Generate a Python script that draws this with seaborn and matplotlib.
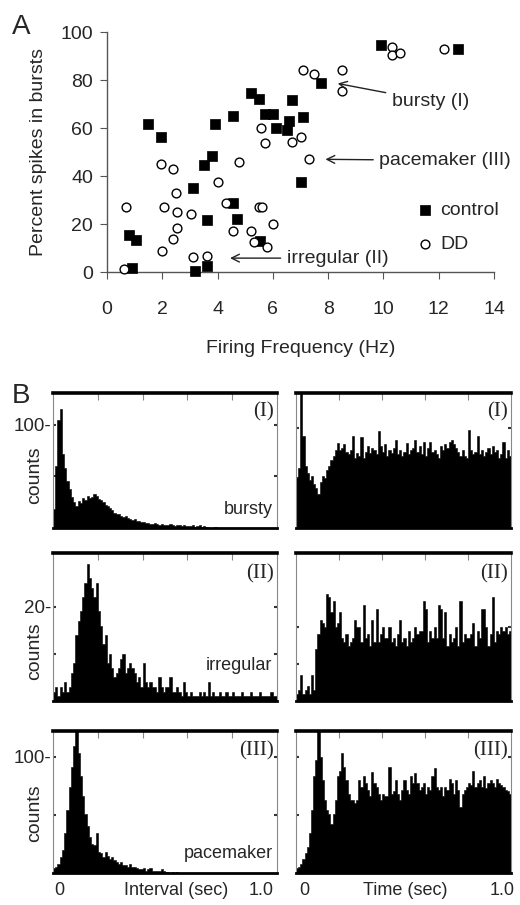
import numpy as np
import pandas as pd
import matplotlib
matplotlib.use("Agg")
import matplotlib.pyplot as plt
import seaborn as sns

sns.set_style("ticks")
plt.rcParams["font.family"] = ["Liberation Sans", "DejaVu Sans"]

# ---------------- DATA ----------------
# Panel A: firing frequency (Hz) vs percent spikes in bursts
control_x = [0.8, 1.05, 0.9, 1.5, 1.95, 3.1, 3.2, 3.5, 3.6, 3.6, 3.8, 3.9, 4.55, 4.55, 4.7,
             5.2, 5.5, 5.55, 5.7, 6.0, 6.1, 6.5, 6.6, 6.7, 7.0, 7.1, 7.75, 9.9, 12.7]
control_y = [15.5, 13.5, 1.7, 61.7, 56.3, 35, 0.5, 44.6, 21.7, 2.5, 48.3, 61.7, 65, 28.8, 22,
             74.5, 72, 13, 66, 65.7, 60, 59, 63, 71.7, 37.5, 64.7, 78.8, 94.6, 93]
dd_x = [0.61, 0.69, 1.95, 2.0, 2.06, 2.4, 2.4, 2.5, 2.53, 2.53, 3.03, 3.1, 3.6, 4.0, 4.3, 4.55,
        4.77, 5.2, 5.3, 5.5, 5.62, 5.56, 5.7, 5.8, 6.0, 6.7, 7.0, 7.1, 7.3, 7.5, 8.5, 8.5,
        10.3, 10.3, 10.6, 12.2]
dd_y = [1.2, 27, 45, 8.8, 27, 42.9, 13.8, 33, 25, 18.3, 24, 6.3, 6.6, 37.5, 28.7, 17,
        45.8, 17, 12.7, 27, 27, 60, 53.7, 10.4, 20, 54.2, 56.3, 84, 47, 82.5, 84, 75.5,
        93.7, 90.4, 91.3, 93]

# Panel B: 100 bins of 0.01 s from 0 to 1.0 s
bin_centers = np.round(np.arange(100) * 0.01 + 0.005, 3)

bursty_isi = [18, 60, 105, 115, 72, 58, 46, 38, 30, 25,
              21, 26, 24, 29, 27, 31, 29, 30, 33, 31,
              28, 27, 25, 22, 21, 19, 17, 15, 14, 14,
              12, 11, 12, 10, 9, 8, 9, 7, 7, 6,
              6, 5, 5, 4, 4, 5, 4, 3, 4, 3,
              3, 3, 4, 3, 2, 3, 3, 2, 3, 2,
              2, 2, 3, 1, 2, 3, 1, 2, 1, 0,
              0, 0, 1, 0, 0, 0, 0, 0, 0, 0,
              0, 0, 0, 0, 0, 0, 0, 0, 0, 0,
              0, 0, 0, 0, 0, 0, 0, 0, 0, 0]
bursty_acg = [50, 60, 140, 92, 62, 55, 48, 52, 44, 40,
              34, 46, 52, 50, 58, 62, 68, 72, 78, 85,
              78, 80, 84, 76, 74, 78, 92, 70, 75, 72,
              91, 70, 76, 82, 75, 80, 78, 74, 97, 82,
              76, 84, 72, 78, 75, 80, 88, 74, 78, 72,
              76, 85, 74, 78, 80, 88, 76, 82, 74, 86,
              72, 80, 86, 76, 78, 74, 70, 82, 78, 84,
              80, 86, 88, 84, 80, 76, 72, 78, 72, 70,
              98, 78, 74, 76, 92, 74, 78, 72, 76, 80,
              74, 82, 76, 78, 70, 74, 86, 70, 78, 72]
irregular_isi = [2, 3, 1, 3, 2, 4, 2, 3, 6, 8,
                 14, 17, 19, 22, 25, 29, 26, 24, 22, 25,
                 19, 16, 12, 14, 8, 10, 7, 5, 6, 7,
                 9, 10, 6, 7, 8, 7, 6, 4, 5, 3,
                 8, 4, 3, 4, 3, 3, 2, 5, 3, 2,
                 3, 3, 5, 2, 2, 3, 2, 1, 4, 2,
                 1, 2, 1, 1, 1, 2, 1, 2, 1, 4,
                 1, 2, 1, 1, 2, 1, 1, 2, 1, 1,
                 2, 1, 1, 1, 2, 1, 1, 1, 2, 1,
                 1, 1, 2, 1, 1, 1, 1, 2, 1, 1]
irregular_acg = [2, 3, 7, 2, 3, 4, 2, 7, 3, 14,
                 18, 22, 21, 20, 29, 28, 24, 27, 20, 21,
                 24, 17, 16, 18, 15, 16, 17, 22, 20, 20,
                 16, 26, 17, 18, 15, 22, 16, 25, 16, 18,
                 20, 17, 17, 20, 16, 17, 15, 18, 22, 16,
                 17, 15, 19, 16, 17, 20, 18, 19, 19, 27,
                 25, 16, 19, 17, 20, 17, 26, 25, 17, 24,
                 15, 18, 16, 17, 20, 15, 27, 16, 18, 17,
                 17, 18, 21, 15, 19, 17, 25, 25, 20, 15,
                 18, 28, 16, 19, 18, 20, 19, 20, 18, 19]
pacemaker_isi = [4, 5, 8, 14, 20, 34, 54, 74, 91, 109,
                 125, 103, 83, 66, 51, 40, 31, 25, 24, 34,
                 18, 17, 14, 18, 15, 12, 14, 11, 9, 8,
                 9, 7, 7, 5, 8, 5, 5, 4, 3, 3,
                 4, 2, 3, 4, 2, 2, 2, 2, 3, 2,
                 1, 1, 0, 1, 0, 1, 0, 0, 0, 0,
                 0, 0, 0, 0, 0, 0, 0, 0, 0, 0,
                 0, 0, 0, 0, 0, 0, 0, 0, 0, 0,
                 0, 0, 0, 0, 0, 0, 0, 0, 0, 0,
                 0, 0, 0, 0, 0, 0, 0, 0, 0, 0]
pacemaker_acg = [4, 5, 8, 12, 17, 22, 34, 54, 83, 97,
                 125, 100, 80, 63, 54, 51, 42, 51, 63, 83,
                 88, 103, 91, 80, 68, 63, 63, 60, 63, 80,
                 74, 83, 77, 71, 66, 87, 77, 74, 68, 63,
                 68, 66, 66, 91, 68, 70, 80, 68, 63, 71,
                 80, 71, 68, 83, 77, 86, 77, 71, 74, 77,
                 68, 74, 71, 83, 90, 74, 71, 74, 66, 74,
                 71, 81, 77, 68, 80, 71, 57, 68, 71, 74,
                 77, 76, 88, 74, 77, 80, 74, 83, 73, 77,
                 80, 77, 74, 81, 77, 76, 74, 71, 70, 68]

row_tags = ["(I)", "(II)", "(III)"]
row_names = ["bursty", "irregular", "pacemaker"]
isi_data = [bursty_isi, irregular_isi, pacemaker_isi]
acg_data = [bursty_acg, irregular_acg, pacemaker_acg]

fig = plt.figure(figsize=(5.2, 9.05), dpi=100)
fig.set_facecolor("white")

# ---------------- PANEL A ----------------
ax = fig.add_axes([0.2058, 0.6994, 0.7442, 0.2652])
sns.scatterplot(x=control_x, y=control_y, marker="s", s=58, color="black",
                edgecolor="black", linewidth=0.5, label="control", ax=ax,
                clip_on=False, zorder=3)
sns.scatterplot(x=dd_x, y=dd_y, marker="o", s=40, color="white",
                edgecolor="black", linewidth=1.0, label="DD", ax=ax,
                clip_on=False, zorder=3)
ax.set_xlim(0, 14)
ax.set_ylim(0, 100)
ax.set_xticks(np.arange(0, 15, 2))
ax.set_yticks(np.arange(0, 101, 20))
sns.despine(ax=ax)
for side in ["left", "bottom"]:
    ax.spines[side].set_color("#555555")
    ax.spines[side].set_linewidth(1.0)
ax.tick_params(axis="both", direction="out", length=5, color="#555555", labelsize=14)
ax.tick_params(axis="x", pad=16)
ax.tick_params(axis="y", pad=5)
ax.set_xlabel("Firing Frequency (Hz)", fontsize=14, labelpad=16)
ax.set_ylabel("Percent spikes in bursts", fontsize=14, labelpad=10)
ax.legend(loc="upper left", bbox_to_anchor=(0.796, 0.295), frameon=False, fontsize=14,
          handlelength=1.0, handletextpad=0.3, borderpad=0, borderaxespad=0,
          labelspacing=0.85)

arrow = dict(arrowstyle="->", color="#222222", lw=1.0, shrinkA=2, shrinkB=6)
ax.annotate("bursty (I)", xy=(8.05, 79.2), xytext=(10.3, 71.2), fontsize=14,
            ha="left", va="center", arrowprops=arrow)
ax.annotate("pacemaker (III)", xy=(7.6, 47), xytext=(9.85, 46.5), fontsize=14,
            ha="left", va="center", arrowprops=arrow)
ax.annotate("irregular (II)", xy=(4.15, 5.8), xytext=(6.5, 5.8), fontsize=14,
            ha="left", va="center", arrowprops=arrow)

fig.text(0.022, 0.984, "A", fontsize=20, ha="left", va="top")
fig.text(0.022, 0.577, "B", fontsize=20, ha="left", va="top")

# ---------------- PANEL B ----------------
row_bottoms = [0.4166, 0.2254, 0.0354]
row_heights = [0.1492, 0.1635, 0.1569]
left_ylims = [131, 31.4, 122]
right_ylims = [135, 40, 122]
row_ticks = [[50, 100], [10, 20], [50, 100]]
count_label_y = [0.39, 0.34, 0.42]
col_x = [0.1019, 0.5692]
col_w = [0.4308, 0.4135]

for r in range(3):
    for c in range(2):
        ax = fig.add_axes([col_x[c], row_bottoms[r], col_w[c], row_heights[r]])
        vals = isi_data[r] if c == 0 else acg_data[r]
        hist_df = pd.DataFrame({"t": bin_centers, "n": vals})
        sns.histplot(data=hist_df, x="t", weights="n", binwidth=0.01, binrange=(0, 1),
                     element="step", fill=True, color="black", alpha=1,
                     linewidth=0.4, ax=ax)
        ax.set_xlim(0, 1)
        ax.set_ylim(0, left_ylims[r] if c == 0 else right_ylims[r])
        ax.set_xlabel("")
        ax.set_ylabel("")

        ax.spines["top"].set_linewidth(2.6)
        ax.spines["top"].set_color("black")
        ax.spines["bottom"].set_linewidth(2.0)
        ax.spines["bottom"].set_color("black")
        for side in ["left", "right"]:
            ax.spines[side].set_linewidth(0.8)
            ax.spines[side].set_color("#888888")

        ax.set_xticks([0.2, 0.4, 0.6, 0.8])
        ax.tick_params(axis="x", which="both", top=True, bottom=False, labeltop=False,
                       labelbottom=False, direction="in", length=5, width=0.8,
                       color="#888888")
        ticks = row_ticks[r]
        if c == 0:
            ax.set_yticks(ticks, labels=["", f"{ticks[1]}-"])
        else:
            ax.set_yticks(ticks, labels=["", ""])
        ax.tick_params(axis="y", left=True, right=True, direction="in", length=2,
                       width=1.5, color="#333333", labelsize=13.5, pad=1)

        ax.text(0.985, 0.86, row_tags[r], transform=ax.transAxes, ha="right",
                va="center", fontsize=15, family=["Liberation Serif", "DejaVu Serif"])
        if c == 0:
            ax.text(0.98, 0.14 if r != 1 else 0.24, row_names[r], transform=ax.transAxes,
                    ha="right", va="center", fontsize=13)
            ax.set_ylabel("counts", fontsize=14)
            ax.yaxis.set_label_coords(-0.045, count_label_y[r])

        if r == 2:
            if c == 0:
                ax.text(0.03, -0.12, "0", transform=ax.transAxes, ha="center", va="center", fontsize=13)
                ax.text(0.55, -0.12, "Interval (sec)", transform=ax.transAxes, ha="center", va="center", fontsize=13)
                ax.text(0.93, -0.12, "1.0", transform=ax.transAxes, ha="center", va="center", fontsize=13)
            else:
                ax.text(0.04, -0.12, "0", transform=ax.transAxes, ha="center", va="center", fontsize=13)
                ax.text(0.51, -0.12, "Time (sec)", transform=ax.transAxes, ha="center", va="center", fontsize=13)
                ax.text(0.96, -0.12, "1.0", transform=ax.transAxes, ha="center", va="center", fontsize=13)

fig.savefig("out.png", dpi=100)
